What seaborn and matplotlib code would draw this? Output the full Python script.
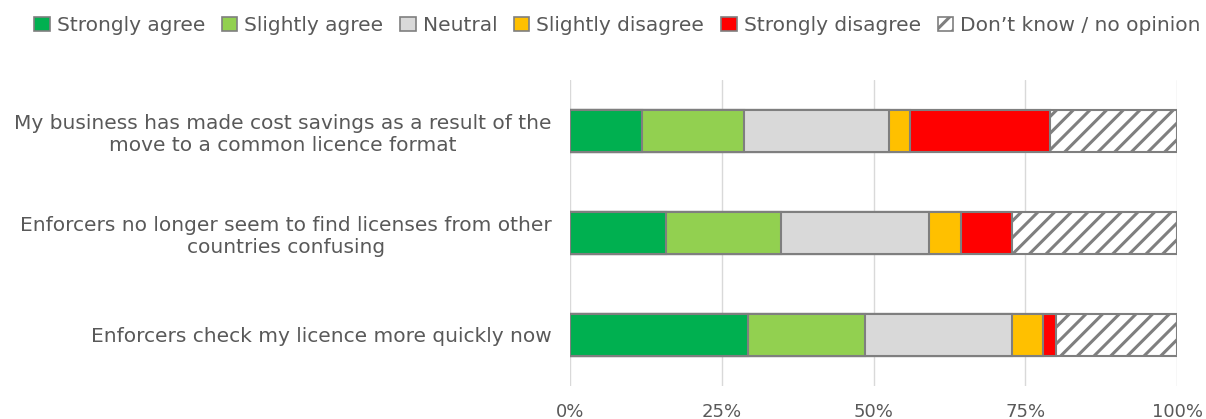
import numpy as np
import pandas as pd
import matplotlib
matplotlib.use("Agg")
import matplotlib.pyplot as plt
import seaborn as sns
from matplotlib.patches import Patch
from matplotlib.ticker import PercentFormatter

statements = [
    "My business has made cost savings as a result of the\nmove to a common licence format",
    "Enforcers no longer seem to find licenses from other\ncountries confusing",
    "Enforcers check my licence more quickly now",
]
responses = ["Strongly agree", "Slightly agree", "Neutral",
             "Slightly disagree", "Strongly disagree", "Don\u2019t know / no opinion"]

strongly_agree = [11.8, 15.8, 29.3]
slightly_agree = [16.8, 19.0, 19.3]
neutral = [24.0, 24.4, 24.2]
slightly_disagree = [3.4, 5.2, 5.1]
strongly_disagree = [23.0, 8.4, 2.1]
dont_know = [21.0, 27.2, 20.0]

colors = ["#00b050", "#92d050", "#d9d9d9", "#ffc000", "#ff0000", "white"]
text_grey = "#595959"
edge_grey = "#7f7f7f"

df = pd.DataFrame({
    "statement": statements,
    responses[0]: strongly_agree,
    responses[1]: slightly_agree,
    responses[2]: neutral,
    responses[3]: slightly_disagree,
    responses[4]: strongly_disagree,
    responses[5]: dont_know,
})
# cumulative totals so the bars can be layered to look stacked
cum = df[responses].cumsum(axis=1)
for r in responses:
    df["cum_" + r] = cum[r]

sns.set_style("white")
plt.rcParams["font.family"] = ["DejaVu Sans"]
plt.rcParams["hatch.color"] = "#595959"
plt.rcParams["hatch.linewidth"] = 2.2

fig, ax = plt.subplots(figsize=(12.06, 4.19), dpi=100)
fig.subplots_adjust(left=0.4726, right=0.976, top=0.809, bottom=0.079)

# draw from the full bar down so each shorter one sits on top
for r, c in reversed(list(zip(responses, colors))):
    hatch = "//" if r == responses[-1] else None
    sns.barplot(data=df, x="cum_" + r, y="statement", orient="h", color=c,
                width=0.41, edgecolor=edge_grey, linewidth=1.5, hatch=hatch,
                saturation=1, ax=ax)

ax.set_xlim(0, 100)
ax.set_xticks([0, 25, 50, 75, 100])
ax.xaxis.set_major_formatter(PercentFormatter(decimals=0))
ax.grid(axis="x", color="#d9d9d9", linewidth=1)
ax.set_axisbelow(True)
for s in ax.spines.values():
    s.set_visible(False)
ax.set_xlabel("")
ax.set_ylabel("")
ax.tick_params(axis="x", colors=text_grey, labelsize=13, length=0, pad=12)
ax.tick_params(axis="y", colors=text_grey, labelsize=14.5, length=0, pad=13)
for lab in ax.get_yticklabels():
    lab.set_multialignment("center")

handles = []
for r, c in zip(responses, colors):
    handles.append(Patch(facecolor=c, edgecolor=edge_grey, linewidth=1.2,
                         hatch="//" if r == responses[-1] else None, label=r))
leg = fig.legend(handles=handles, loc="upper center", bbox_to_anchor=(0.512, 1.005),
                 ncol=6, frameon=False, fontsize=14.5, handlelength=0.75,
                 handleheight=0.75, handletextpad=0.35, columnspacing=0.85)
for t in leg.get_texts():
    t.set_color(text_grey)

plt.savefig("out.png", dpi=100)
